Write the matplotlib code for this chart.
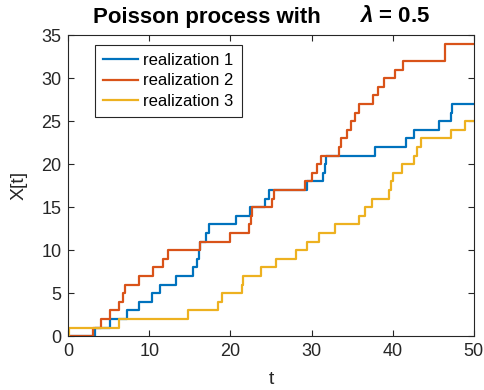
import matplotlib
matplotlib.use("Agg")
import matplotlib.pyplot as plt
import numpy as np

plt.rcParams["font.family"] = ["Liberation Sans", "DejaVu Sans"]
plt.rcParams["mathtext.fontset"] = "custom"
plt.rcParams["mathtext.it"] = "Liberation Sans:italic:bold"

# jump times of each realization
saltos_1 = [3.3, 5.1, 7.25, 8.7, 10.35, 11.25, 13.3, 15.4, 15.9, 16.1, 16.3, 17.0,
            17.4, 20.7, 22.4, 24.3, 24.7, 29.4, 31.4, 31.6, 31.8, 37.8, 41.6, 42.6,
            45.7, 47.2, 47.3]
saltos_2 = [3.0, 4.0, 5.1, 6.2, 6.8, 7.05, 8.7, 10.5, 11.7, 12.3, 16.3, 19.9, 22.3,
            22.5, 22.7, 25.1, 25.4, 29.2, 30.1, 30.7, 31.2, 33.4, 33.6, 34.4, 34.9,
            35.3, 35.8, 37.6, 38.2, 38.9, 40.3, 41.3, 46.4, 46.5]
saltos_3 = [0.1, 6.2, 14.8, 18.5, 19.0, 21.4, 21.6, 23.8, 25.6, 28.1, 29.4, 30.9,
            32.9, 35.9, 36.6, 37.4, 39.5, 39.8, 40.0, 41.1, 42.6, 43.0, 43.5, 47.2,
            48.9]
T_MAX = 50
rotulos = ["realization 1", "realization 2", "realization 3"]
cores = ["#0072BD", "#D95319", "#EDB120"]

fig = plt.figure(figsize=(4.84, 3.9), dpi=100)
ax = fig.add_axes([0.141, 0.138, 0.838, 0.772])

for saltos, cor, rot in zip([saltos_1, saltos_2, saltos_3], cores, rotulos):
    t = np.concatenate([[0], saltos, [T_MAX]])
    x = np.concatenate([np.arange(len(saltos) + 1), [len(saltos)]])
    ax.step(t, x, where="post", color=cor, linewidth=1.6, label=rot)

ax.set_xlim(0, 50)
ax.set_ylim(0, 35)
ax.set_xticks(np.arange(0, 51, 10))
ax.set_yticks(np.arange(0, 36, 5))
cinza = "#262626"
ax.tick_params(direction="in", length=4, width=0.8, top=True, right=True,
               labelsize=13, colors=cinza, pad=5)
for s in ax.spines.values():
    s.set_color(cinza)
    s.set_linewidth(0.8)

ax.set_xlabel("t", fontsize=14, color=cinza, labelpad=8)
ax.set_ylabel("X[t]", fontsize=14, color=cinza, labelpad=10)

# titulo em duas partes (espaco largo entre elas, como no original)
fig.text(93 / 484, 1 - 17 / 390, "Poisson process with", fontsize=16,
         fontweight="bold", ha="left", va="center")
fig.text(430 / 484, 1 - 17 / 390, r"$\lambda$ = 0.5", fontsize=16,
         fontweight="bold", ha="right", va="center")

leg = ax.legend(loc="upper left", bbox_to_anchor=(0.066, 0.968), fontsize=12,
                fancybox=False, framealpha=1, edgecolor=cinza, handlelength=2.1,
                handletextpad=0.3, borderpad=0.5, labelspacing=0.32,
                borderaxespad=0)
leg.get_frame().set_linewidth(0.8)

fig.savefig("out.png", dpi=100)
